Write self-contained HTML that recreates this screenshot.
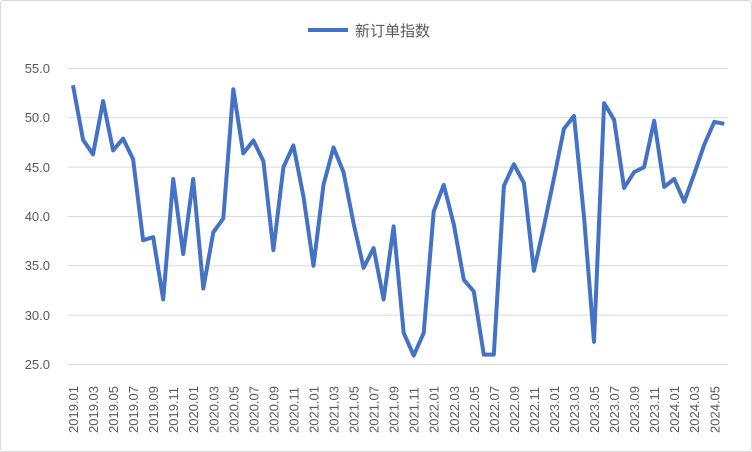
<!DOCTYPE html>
<html><head><meta charset="utf-8"><style>
body{margin:0;background:#fff;}
svg{display:block;font-family:"Liberation Sans","Noto Sans CJK SC",sans-serif;}
</style></head><body>
<svg width="752" height="452" viewBox="0 0 752 452">
<rect x="0.5" y="0.5" width="751" height="451" fill="#fff" stroke="#d9d9d9" rx="3"/>
<g stroke="#d9d9d9" stroke-width="1">
<line x1="68" x2="728" y1="68.5" y2="68.5"/>
<line x1="68" x2="728" y1="117.8" y2="117.8"/>
<line x1="68" x2="728" y1="167.1" y2="167.1"/>
<line x1="68" x2="728" y1="216.5" y2="216.5"/>
<line x1="68" x2="728" y1="265.8" y2="265.8"/>
<line x1="68" x2="728" y1="315.1" y2="315.1"/>
<line x1="68" x2="728" y1="364.5" y2="364.5"/>
</g>
<g font-size="13" fill="#595959" text-anchor="end">
<text x="50" y="73">55.0</text><text x="50" y="122">50.0</text><text x="50" y="172">45.0</text>
<text x="50" y="221">40.0</text><text x="50" y="270">35.0</text><text x="50" y="320">30.0</text>
<text x="50" y="369">25.0</text>
</g>
<line x1="308" x2="348" y1="30" y2="30" stroke="#4472c4" stroke-width="4"/>
<text x="355" y="36" font-size="15" fill="#595959">新订单指数</text>
<g font-size="13" fill="#595959">
<text transform="translate(78,433) rotate(-90)">2019.01</text>
<text transform="translate(98,433) rotate(-90)">2019.03</text>
<text transform="translate(118.1,433) rotate(-90)">2019.05</text>
<text transform="translate(138.1,433) rotate(-90)">2019.07</text>
<text transform="translate(158.2,433) rotate(-90)">2019.09</text>
<text transform="translate(178.2,433) rotate(-90)">2019.11</text>
<text transform="translate(198.2,433) rotate(-90)">2020.01</text>
<text transform="translate(218.3,433) rotate(-90)">2020.03</text>
<text transform="translate(238.3,433) rotate(-90)">2020.05</text>
<text transform="translate(258.4,433) rotate(-90)">2020.07</text>
<text transform="translate(278.4,433) rotate(-90)">2020.09</text>
<text transform="translate(298.4,433) rotate(-90)">2020.11</text>
<text transform="translate(318.5,433) rotate(-90)">2021.01</text>
<text transform="translate(338.5,433) rotate(-90)">2021.03</text>
<text transform="translate(358.6,433) rotate(-90)">2021.05</text>
<text transform="translate(378.6,433) rotate(-90)">2021.07</text>
<text transform="translate(398.6,433) rotate(-90)">2021.09</text>
<text transform="translate(418.7,433) rotate(-90)">2021.11</text>
<text transform="translate(438.7,433) rotate(-90)">2022.01</text>
<text transform="translate(458.8,433) rotate(-90)">2022.03</text>
<text transform="translate(478.8,433) rotate(-90)">2022.05</text>
<text transform="translate(498.8,433) rotate(-90)">2022.07</text>
<text transform="translate(518.9,433) rotate(-90)">2022.09</text>
<text transform="translate(538.9,433) rotate(-90)">2022.11</text>
<text transform="translate(559,433) rotate(-90)">2023.01</text>
<text transform="translate(579,433) rotate(-90)">2023.03</text>
<text transform="translate(599,433) rotate(-90)">2023.05</text>
<text transform="translate(619.1,433) rotate(-90)">2023.07</text>
<text transform="translate(639.1,433) rotate(-90)">2023.09</text>
<text transform="translate(659.2,433) rotate(-90)">2023.11</text>
<text transform="translate(679.2,433) rotate(-90)">2024.01</text>
<text transform="translate(699.2,433) rotate(-90)">2024.03</text>
<text transform="translate(719.3,433) rotate(-90)">2024.05</text>
</g>
<polyline fill="none" stroke="#4472c4" stroke-width="4" stroke-linejoin="round" points="73,85.3 83,139.6 93,154.4 103.1,101.1 113.1,150.4 123.1,138.6 133.1,159.3 143.1,240.2 153.2,237.2 163.2,299.4 173.2,179 183.2,254 193.2,179 203.3,288.5 213.3,232.3 223.3,218.5 233.3,89.2 243.3,153.4 253.4,140.5 263.4,161.3 273.4,250.1 283.4,167.2 293.4,145.5 303.5,196.8 313.5,265.8 323.5,184.9 333.5,147.4 343.5,172.1 353.6,223.4 363.6,267.8 373.6,248.1 383.6,299.4 393.6,226.4 403.7,332.9 413.7,355.6 423.7,332.9 433.7,211.6 443.7,184.9 453.8,224.4 463.8,279.7 473.8,291.5 483.8,354.6 493.8,354.6 503.9,185.9 513.9,164.2 523.9,183 533.9,270.8 543.9,226.4 554,178 564,128.7 574,115.9 584,216.5 594,341.8 604.1,103.1 614.1,119.8 624.1,187.9 634.1,172.1 644.1,167.2 654.2,120.8 664.2,186.9 674.2,179 684.2,201.7 694.2,174.1 704.3,144.5 714.3,121.8 724.3,123.8"/>
</svg>
</body></html>
